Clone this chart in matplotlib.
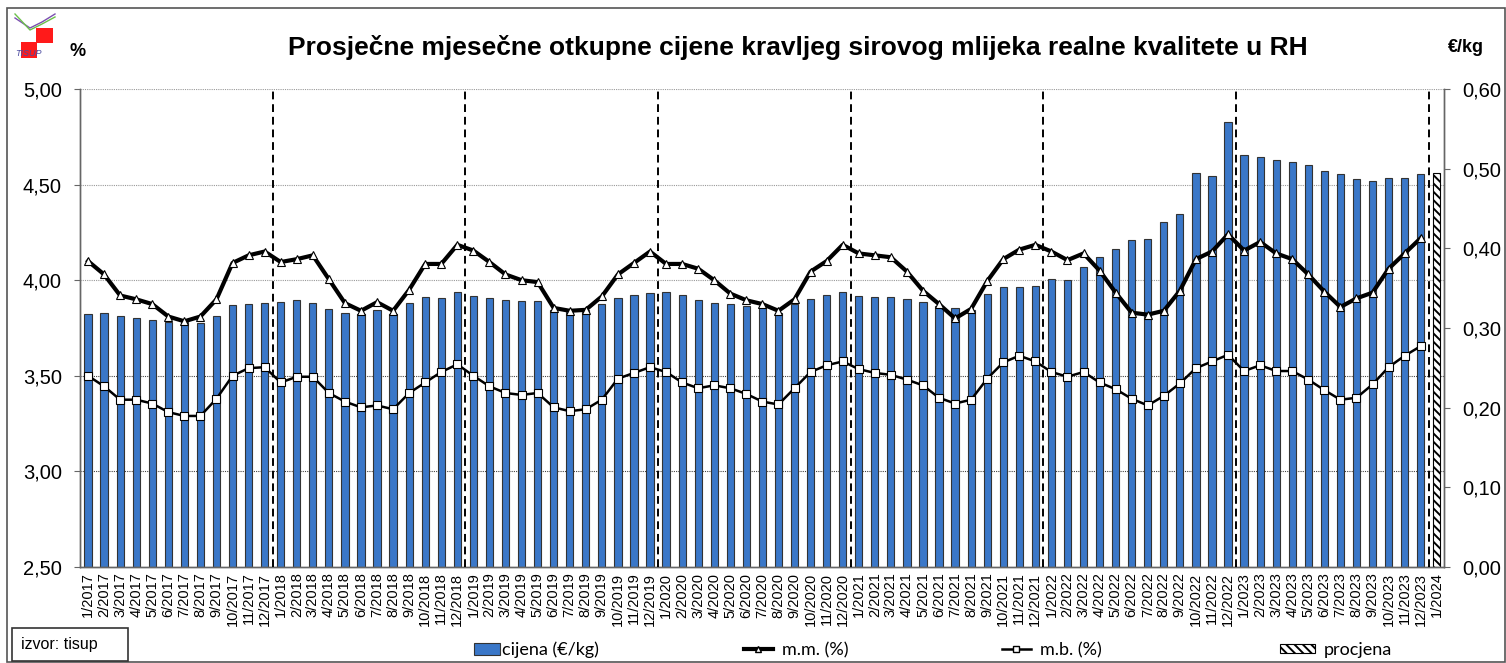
import matplotlib
matplotlib.use('Agg')

import matplotlib.pyplot as plt
from matplotlib.patches import Rectangle, Patch
from matplotlib.lines import Line2D
from matplotlib.ticker import FuncFormatter

plt.rcParams['font.family'] = ['Liberation Sans', 'DejaVu Sans']
plt.rcParams['hatch.linewidth'] = 1.4

# months 1/2017 .. 1/2024
labels = [f"{m}/{y}" for y in range(2017, 2024) for m in range(1, 13)] + ["1/2024"]

cijena = [
    0.317, 0.319, 0.315, 0.312, 0.310, 0.307, 0.308, 0.306, 0.315, 0.329, 0.330, 0.332,
    0.333, 0.335, 0.332, 0.324, 0.319, 0.318, 0.322, 0.318, 0.331, 0.339, 0.338, 0.345,
    0.340, 0.338, 0.335, 0.334, 0.334, 0.323, 0.321, 0.323, 0.330, 0.338, 0.341, 0.344,
    0.345, 0.341, 0.335, 0.331, 0.330, 0.327, 0.326, 0.319, 0.330, 0.336, 0.341, 0.345,
    0.340, 0.339, 0.339, 0.336, 0.333, 0.328, 0.325, 0.323, 0.343, 0.352, 0.351, 0.353,
    0.362, 0.360, 0.377, 0.389, 0.399, 0.411, 0.412, 0.433, 0.443, 0.495, 0.491, 0.559,
    0.517, 0.515, 0.511, 0.508, 0.504, 0.497, 0.493, 0.487, 0.485, 0.488, 0.488, 0.493,
]
procjena = 0.494  # 1/2024 estimate

mm = [
    4.10, 4.03, 3.92, 3.90, 3.875, 3.81, 3.785, 3.81, 3.90, 4.09, 4.13, 4.15,
    4.095, 4.11, 4.13, 4.005, 3.88, 3.84, 3.885, 3.84, 3.95, 4.085, 4.085, 4.185,
    4.155, 4.095, 4.03, 4.00, 3.99, 3.855, 3.84, 3.845, 3.915, 4.03, 4.09, 4.15,
    4.085, 4.085, 4.06, 4.00, 3.93, 3.895, 3.875, 3.84, 3.90, 4.045, 4.10, 4.185,
    4.14, 4.13, 4.12, 4.045, 3.945, 3.875, 3.80, 3.85, 3.995, 4.11, 4.16, 4.185,
    4.15, 4.105, 4.14, 4.05, 3.935, 3.83, 3.82, 3.84, 3.945, 4.11, 4.15, 4.24,
    4.155, 4.20, 4.14, 4.11, 4.03, 3.94, 3.86, 3.905, 3.935, 4.06, 4.14, 4.22,
]

mb = [
    3.50, 3.445, 3.375, 3.375, 3.355, 3.31, 3.29, 3.29, 3.38, 3.50, 3.54, 3.545,
    3.465, 3.495, 3.495, 3.41, 3.365, 3.335, 3.345, 3.325, 3.41, 3.465, 3.52, 3.56,
    3.50, 3.445, 3.41, 3.40, 3.41, 3.335, 3.315, 3.325, 3.375, 3.485, 3.515, 3.545,
    3.52, 3.465, 3.435, 3.45, 3.435, 3.405, 3.365, 3.35, 3.435, 3.52, 3.555, 3.575,
    3.535, 3.515, 3.505, 3.48, 3.45, 3.385, 3.355, 3.375, 3.485, 3.57, 3.605, 3.575,
    3.52, 3.495, 3.52, 3.465, 3.43, 3.38, 3.345, 3.395, 3.46, 3.54, 3.575, 3.61,
    3.525, 3.555, 3.525, 3.525, 3.48, 3.425, 3.375, 3.385, 3.455, 3.545, 3.605, 3.655,
]

pct_ticks = [2.5, 3.0, 3.5, 4.0, 4.5, 5.0]
eur_ticks = [0.0, 0.1, 0.2, 0.3, 0.4, 0.5, 0.6]

BLUE = '#3A77C8'
W, H = 1506, 663


def fx(px):
    return px / W


def fy(py):
    return 1 - py / H


comma = FuncFormatter(lambda v, p: f"{v:.2f}".replace('.', ','))

fig = plt.figure(figsize=(W / 100, H / 100), dpi=100)
fig.patch.set_facecolor('white')

# bars live on the main axes (right scale), lines on the twin (left scale)
ax = fig.add_axes([fx(80), fy(567), fx(1444) - fx(80), fy(89) - fy(567)])
ax2 = ax.twinx()

x = list(range(len(labels)))
ax.set_ylim(0, 0.6)
ax.set_xlim(-0.5, len(labels) - 0.55)

# horizontal grid from the % axis, drawn behind the bars
for v in pct_ticks[1:]:
    col = '#444444' if v <= 3.5 else '#999999'
    ax.axhline((v - 2.5) * 0.24, color=col, lw=0.8, ls=(0, (1, 1)), zorder=0)

ax.bar(x[:-1], cijena, width=0.45, color=BLUE, edgecolor='#333333', lw=0.8, zorder=2)
ax.bar(x[-1], procjena, width=0.45, color='white', edgecolor='black', lw=0.8,
       hatch='\\\\\\\\', zorder=2)

ax.yaxis.tick_right()
ax.set_yticks(eur_ticks)
ax.yaxis.set_major_formatter(comma)
ax.tick_params(axis='y', labelsize=14.5, length=4, color='#666666', pad=9)
ax.set_xticks(x)
ax.set_xticklabels(labels, rotation=90, fontsize=10.5)
ax.tick_params(axis='x', length=0, pad=4)

ax2.set_ylim(2.5, 5.0)
ax2.yaxis.tick_left()
ax2.set_yticks(pct_ticks)
ax2.yaxis.set_major_formatter(comma)
ax2.tick_params(axis='y', labelsize=14.5, length=4, color='#666666', pad=9)

ax2.plot(x[:-1], mm, color='black', lw=3, marker='^', ms=6, mfc='white', mec='black',
         mew=0.8, zorder=4)
ax2.plot(x[:-1], mb, color='black', lw=1.8, marker='s', ms=6, mfc='white', mec='black',
         mew=0.8, zorder=4)

# year separators
for i in range(11, len(labels) - 1, 12):
    ax2.axvline(i + 0.5, color='black', lw=1.4, ls=(0, (4, 2.5)), zorder=3)

for a in (ax, ax2):
    a.spines['top'].set_visible(False)
    for s in ('left', 'right', 'bottom'):
        a.spines[s].set_color('#666666')
        a.spines[s].set_linewidth(1.0)

# titles / axis units
fig.text(fx(798), fy(48), "Prosječne mjesečne otkupne cijene kravljeg sirovog mlijeka realne kvalitete u RH",
         ha='center', va='center', fontsize=19, fontweight='bold')
fig.text(fx(69), fy(52), "%", ha='left', va='center', fontsize=13, fontweight='bold')
fig.text(fx(1448), fy(48), "€/kg", ha='left', va='center', fontsize=13, fontweight='bold')

# outer frame
fig.add_artist(Rectangle((fx(7), fy(662)), fx(1505) - fx(7), fy(8) - fy(662),
                         transform=fig.transFigure, fill=False, ec='#555555', lw=1.2))

# source box
fig.add_artist(Rectangle((fx(12), fy(661)), fx(128) - fx(12), fy(628) - fy(661),
                         transform=fig.transFigure, fill=False, ec='#333333', lw=1.2))
fig.text(fx(21), fy(644), "izvor: tisup", ha='left', va='center', fontsize=11.5)

# little TISUP logo
fig.add_artist(Line2D([fx(15), fx(30), fx(42), fx(55)], [fy(18), fy(28), fy(22), fy(14)],
                      transform=fig.transFigure, color='#7b4fb0', lw=1))
fig.add_artist(Line2D([fx(15), fx(30), fx(42), fx(55)], [fy(14), fy(30), fy(24), fy(17)],
                      transform=fig.transFigure, color='#6cc04a', lw=1))
fig.add_artist(Rectangle((fx(36), fy(43)), fx(17), fy(28) - fy(43), transform=fig.transFigure,
                         color='#ff1a1a', lw=0))
fig.add_artist(Rectangle((fx(21), fy(58)), fx(16), fy(42) - fy(58), transform=fig.transFigure,
                         color='#ff1a1a', lw=0))
fig.text(fx(15), fy(54), "TISUP", fontsize=6.5, style='italic', color='#4a4aa0', va='center')

# legend entries, placed one by one like the original
leg_font = {'family': ['Lato', 'DejaVu Sans'], 'size': 13}
entries = [
    (Patch(facecolor=BLUE, edgecolor='#333333', lw=0.8), "cijena (€/kg)", 474, 1.45, 0.7),
    (Line2D([], [], color='black', lw=3, marker='^', ms=5, mfc='white', mec='black'),
     "m.m. (%)", 744, 1.6, 0.7),
    (Line2D([], [], color='black', lw=1.8, marker='s', ms=5, mfc='white', mec='black'),
     "m.b. (%)", 1002, 1.6, 0.7),
    (Patch(facecolor='white', edgecolor='black', hatch='\\\\\\\\', lw=0.8), "procjena", 1280, 1.95, 0.45),
]
for h, lab, px, hl, hh in entries:
    fig.legend(handles=[h], labels=[lab], loc='center left', bbox_to_anchor=(fx(px), fy(650)),
               frameon=False, prop=leg_font, handlelength=hl, handleheight=hh,
               handletextpad=0.5 if lab != "cijena (€/kg)" else 0.1, borderpad=0, borderaxespad=0)

fig.savefig('out.png', dpi=100)
